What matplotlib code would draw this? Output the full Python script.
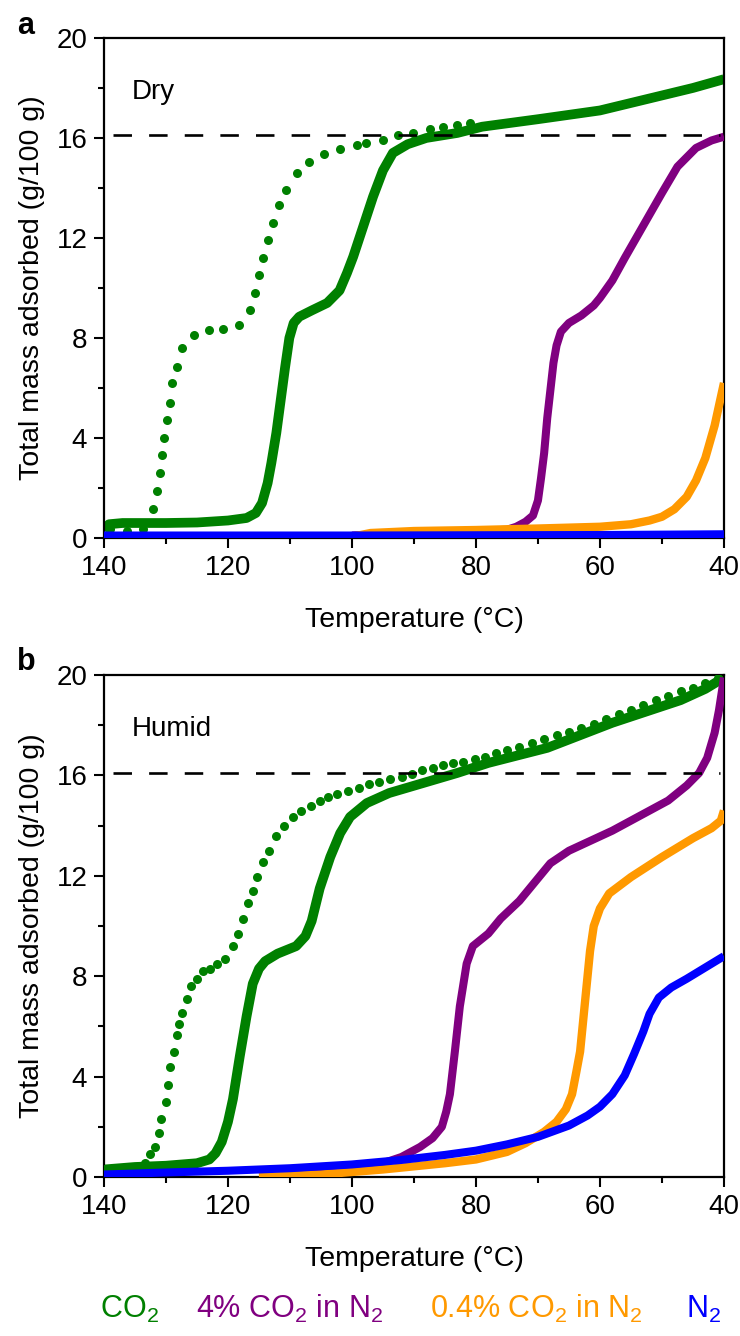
#!/usr/bin/env python3
"""
Total mass adsorbed vs temperature - dry (a) and humid (b) isobars
"""

import matplotlib
matplotlib.use('Agg')
import matplotlib.pyplot as plt
from matplotlib.ticker import MultipleLocator

plt.rcParams['font.family'] = ['Liberation Sans', 'DejaVu Sans']
plt.rcParams['mathtext.default'] = 'regular'

# ---- Panel a: dry ----
dry_co2_t = [140, 139.2, 137, 130, 125, 120, 117, 115.5, 114.5, 113.6, 113, 112.2, 111.5,
             110.8, 110.1, 109.4, 108.5, 106.5, 104, 102, 100.8, 99.8, 98.2, 96.6, 95,
             93.4, 91, 88, 83, 79, 70, 60, 50, 45, 40]
dry_co2_y = [0.3, 0.55, 0.6, 0.6, 0.62, 0.7, 0.8, 1.0, 1.4, 2.2, 3.0, 4.2, 5.5,
             6.8, 8.0, 8.6, 8.85, 9.1, 9.4, 9.9, 10.6, 11.25, 12.45, 13.65, 14.7,
             15.4, 15.75, 16.0, 16.2, 16.45, 16.75, 17.1, 17.7, 18.0, 18.35]

dry_dots_t = [139.0, 136.3, 133.7, 132.1, 131.4, 131.0, 130.6, 130.3, 129.8, 129.4, 129.0,
              128.3, 127.4, 125.5, 123.0, 120.8, 118.3, 116.5, 115.6, 115.0, 114.3, 113.5,
              112.7, 111.8, 110.6, 108.9, 106.9, 104.5, 101.9, 99.2, 97.7, 95.0, 92.6,
              90.2, 87.4, 85.3, 83.1, 81.0]
dry_dots_y = [0.35, 0.3, 0.35, 1.15, 1.9, 2.6, 3.3, 4.0, 4.7, 5.4, 6.2,
              6.85, 7.6, 8.1, 8.3, 8.35, 8.5, 9.1, 9.8, 10.5, 11.2, 11.9,
              12.6, 13.3, 13.9, 14.6, 15.05, 15.35, 15.55, 15.7, 15.8, 15.9, 16.1,
              16.2, 16.35, 16.45, 16.5, 16.6]

dry_4pct_t = [100, 90, 80, 75, 73.5, 72, 70.8, 70, 69.5, 69, 68.5, 68, 67.5, 67, 66.3,
              65, 63, 61, 60, 58, 56, 53, 50, 47.5, 44.5, 42, 40]
dry_4pct_y = [0.1, 0.2, 0.28, 0.33, 0.45, 0.65, 0.9, 1.5, 2.4, 3.4, 4.8, 5.9, 7.0, 7.7, 8.25,
              8.6, 8.9, 9.3, 9.6, 10.3, 11.2, 12.5, 13.8, 14.85, 15.6, 15.9, 16.05]

dry_04pct_t = [100, 97, 90, 80, 70, 60, 55, 52, 50, 48, 46, 44.5, 43, 41.5, 40]
dry_04pct_y = [0.05, 0.2, 0.28, 0.32, 0.38, 0.45, 0.55, 0.7, 0.85, 1.15, 1.65, 2.3, 3.2, 4.5, 6.2]

dry_n2_t = [140, 100, 60, 40]
dry_n2_y = [0.1, 0.1, 0.12, 0.15]

# ---- Panel b: humid ----
hum_co2_t = [140, 135, 130, 125, 123, 122, 121, 120, 119.2, 118.1, 117, 116, 115, 114, 112,
             109, 107.5, 106.5, 105.2, 103.5, 101.9, 100.3, 97.6, 94, 88.5, 83, 78, 68.5,
             58, 47, 43, 40]
hum_co2_y = [0.3, 0.4, 0.45, 0.55, 0.7, 0.95, 1.4, 2.2, 3.1, 4.8, 6.4, 7.7, 8.3, 8.6, 8.9,
             9.2, 9.6, 10.2, 11.5, 12.75, 13.7, 14.35, 14.9, 15.3, 15.7, 16.1, 16.5, 17.1,
             18.1, 19.0, 19.45, 19.9]

hum_dots_t = [140, 138.3, 136.5, 134.8, 133.4, 132.6, 131.8, 131.1, 130.8, 130.0, 129.7,
              129.4, 128.7, 128.2, 127.9, 127.4, 126.6, 126.0, 125.0, 124.0, 122.9, 121.8,
              120.5, 119.2, 118.4, 117.6, 116.8, 116.0, 115.3, 114.4, 113.4, 112.3, 111.0,
              109.5, 108.2, 106.6, 105.2, 103.9, 102.4, 100.6, 98.9, 97.3, 95.6, 93.9,
              91.9, 90.3, 88.7, 86.9, 85.3, 83.7, 82.1, 80.2, 78.5, 76.7, 75.0, 73.0,
              71.0, 69.0, 67.0, 65.0, 63.0, 61.0, 59.0, 57.0, 55.0, 53.0, 51.0, 49.0,
              47.0, 45.0, 43.0, 41.0]
hum_dots_y = [0.3, 0.32, 0.35, 0.4, 0.55, 0.9, 1.2, 1.75, 2.3, 3.0, 3.65,
              4.4, 5.0, 5.65, 6.1, 6.55, 7.1, 7.6, 7.9, 8.2, 8.3, 8.5,
              8.7, 9.2, 9.7, 10.3, 10.9, 11.4, 11.95, 12.55, 13.0, 13.6, 14.0,
              14.35, 14.6, 14.8, 15.0, 15.15, 15.25, 15.4, 15.5, 15.65, 15.75, 15.85,
              15.95, 16.05, 16.2, 16.3, 16.4, 16.5, 16.55, 16.65, 16.75, 16.9, 17.0, 17.15,
              17.3, 17.45, 17.6, 17.75, 17.9, 18.05, 18.25, 18.45, 18.6, 18.8, 19.0, 19.15,
              19.35, 19.5, 19.7, 19.9]

hum_4pct_t = [110, 100, 95, 92, 89, 87, 85.5, 84.8, 84.2, 83.4, 82.6, 81.5, 80.5, 78, 76,
              73, 70, 68, 65, 61.5, 58, 55, 52, 49, 46, 44, 42.7, 41.5, 40.8, 40.3, 40]
hum_4pct_y = [0.05, 0.3, 0.55, 0.8, 1.2, 1.55, 2.0, 2.6, 3.3, 5.0, 6.8, 8.5, 9.2, 9.7, 10.3,
              11.0, 11.9, 12.5, 13.0, 13.4, 13.8, 14.2, 14.6, 15.0, 15.6, 16.1, 16.7, 17.7,
              18.6, 19.4, 19.9]

hum_04pct_t = [115, 105, 95, 85, 80, 75, 72, 69, 67, 65.5, 64.5, 63.8, 63.2, 62.4, 61.6, 61,
               60, 58.5, 55, 50, 45, 42, 40.5, 40]
hum_04pct_y = [0.0, 0.1, 0.3, 0.55, 0.7, 1.0, 1.35, 1.8, 2.2, 2.7, 3.3, 4.2, 5.0, 7.0, 9.0, 10.0,
               10.7, 11.3, 11.95, 12.75, 13.5, 13.9, 14.2, 14.6]

hum_n2_t = [140, 130, 120, 110, 100, 92, 85, 80, 75, 70, 65, 62, 60, 58, 56, 54.5, 53, 52,
            50.5, 48.5, 46, 43, 40]
hum_n2_y = [0.1, 0.18, 0.25, 0.35, 0.5, 0.68, 0.88, 1.05, 1.3, 1.6, 2.05, 2.45, 2.8, 3.3, 4.05,
            4.9, 5.8, 6.5, 7.15, 7.55, 7.9, 8.35, 8.8]

capacity = 16.1
x_ticks = [140, 120, 100, 80, 60, 40]
y_ticks = [0, 4, 8, 12, 16, 20]

legend_labels = ['CO$_2$', '4% CO$_2$ in N$_2$', '0.4% CO$_2$ in N$_2$', 'N$_2$']

colors = {
    'co2': '#008000',
    'pct4': '#800080',
    'pct04': '#FF9900',
    'n2': '#0000FF',
}


def style_axes(ax):
    ax.set_xlim(140, 40)
    ax.set_ylim(0, 20)
    ax.set_xticks(x_ticks)
    ax.set_yticks(y_ticks)
    ax.xaxis.set_minor_locator(MultipleLocator(10))
    ax.yaxis.set_minor_locator(MultipleLocator(2))
    for s in ax.spines.values():
        s.set_linewidth(1.6)
    ax.tick_params(which='major', direction='out', length=7, width=1.5,
                   labelsize=20, pad=5)
    ax.tick_params(which='minor', direction='out', length=4.5, width=1.5)
    ax.set_xlabel('Temperature (°C)', fontsize=20.5, labelpad=19)
    ax.set_ylabel('Total mass adsorbed (g/100 g)', fontsize=20.5, labelpad=8)
    ax.plot([138.6, 40.6], [capacity, capacity], color='black', lw=1.9,
            dashes=(7, 6.5), zorder=10)


def draw_panel(ax, co2, dots, pct4, pct04, n2, tag):
    ax.plot(co2[0], co2[1], color=colors['co2'], lw=7, solid_capstyle='butt',
            solid_joinstyle='round', zorder=2)
    ax.plot(dots[0], dots[1], 'o', color=colors['co2'], ms=6.5, mew=0, zorder=3)
    ax.plot(pct4[0], pct4[1], color=colors['pct4'], lw=5.8, solid_capstyle='butt',
            solid_joinstyle='round', zorder=4)
    ax.plot(pct04[0], pct04[1], color=colors['pct04'], lw=6, solid_capstyle='butt',
            solid_joinstyle='round', zorder=5)
    ax.plot(n2[0], n2[1], color=colors['n2'], lw=5.8, solid_capstyle='butt',
            solid_joinstyle='round', zorder=6)
    ax.text(0.045, 0.892, tag, transform=ax.transAxes, fontsize=20, va='center', ha='left')
    style_axes(ax)


def create_figure():
    fig = plt.figure(figsize=(7.4, 13.36), dpi=100)
    ax_a = fig.add_axes([0.1405, 0.5973, 0.8378, 0.3743])
    ax_b = fig.add_axes([0.1405, 0.1190, 0.8378, 0.3757])

    draw_panel(ax_a, (dry_co2_t, dry_co2_y), (dry_dots_t, dry_dots_y),
               (dry_4pct_t, dry_4pct_y), (dry_04pct_t, dry_04pct_y),
               (dry_n2_t, dry_n2_y), 'Dry')
    draw_panel(ax_b, (hum_co2_t, hum_co2_y), (hum_dots_t, hum_dots_y),
               (hum_4pct_t, hum_4pct_y), (hum_04pct_t, hum_04pct_y),
               (hum_n2_t, hum_n2_y), 'Humid')

    fig.text(26 / 740, 1 - 26 / 1336, 'a', fontsize=22, fontweight='bold',
             ha='center', va='center')
    fig.text(26 / 740, 1 - 662 / 1336, 'b', fontsize=22, fontweight='bold',
             ha='center', va='center')

    # colour-coded legend row along the bottom
    legend_x = [100, 196, 430, 686]
    legend_c = [colors['co2'], colors['pct4'], colors['pct04'], colors['n2']]
    for lab, x, c in zip(legend_labels, legend_x, legend_c):
        fig.text(x / 740, 18 / 1336, lab, fontsize=22, color=c,
                 ha='left', va='baseline')
    return fig


def main():
    fig = create_figure()
    fig.savefig('out.png', dpi=100, facecolor='white')
    plt.close(fig)


if __name__ == "__main__":
    main()
